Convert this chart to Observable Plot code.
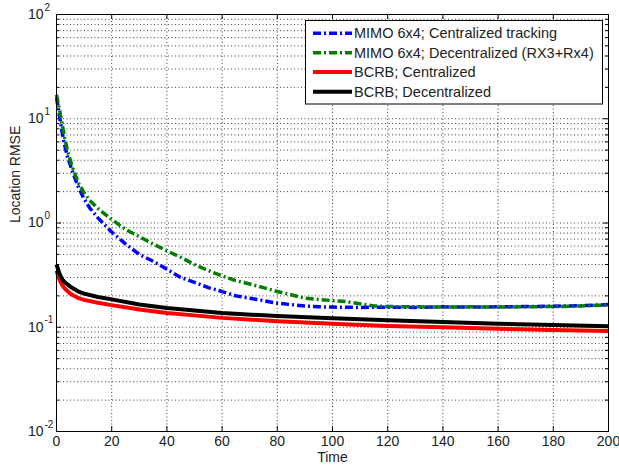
<!DOCTYPE html>
<html>
<head>
<meta charset="utf-8">
<script src="https://cdn.jsdelivr.net/npm/d3@7"></script>
<script src="https://cdn.jsdelivr.net/npm/@observablehq/plot@0.6"></script>
<style>
  html, body { margin: 0; padding: 0; background: #fff; }
  #chart { position: relative; width: 619px; height: 472px; }
</style>
</head>
<body>
<div id="chart"></div>
<script>
// ---- data ----
const tBlue   = [0, 1, 2, 3, 4, 5, 6, 8, 10, 12, 15, 20, 25, 30, 35, 40, 45, 50, 55, 60, 65, 70, 75, 80, 85, 90, 95, 100, 110, 120, 130, 140, 150, 160, 170, 180, 190, 200];
const vBlue   = [16, 11, 7.5, 5.5, 4.3, 3.6, 3.0, 2.2, 1.7, 1.4, 1.12, 0.82, 0.63, 0.5, 0.43, 0.36, 0.3, 0.27, 0.24, 0.22, 0.2, 0.19, 0.18, 0.17, 0.165, 0.16, 0.157, 0.156, 0.155, 0.156, 0.155, 0.157, 0.156, 0.157, 0.158, 0.159, 0.161, 0.165];
const tGreen  = [0, 1, 2, 3, 4, 5, 6, 8, 10, 12, 15, 20, 25, 30, 35, 40, 45, 50, 55, 60, 65, 70, 75, 80, 85, 90, 95, 100, 105, 110, 115, 120, 130, 140, 150, 160, 170, 180, 190, 200];
const vGreen  = [17, 12.5, 9, 6.5, 4.9, 4.0, 3.3, 2.4, 1.95, 1.65, 1.38, 1.08, 0.87, 0.74, 0.63, 0.54, 0.47, 0.4, 0.35, 0.31, 0.28, 0.26, 0.24, 0.22, 0.205, 0.19, 0.185, 0.18, 0.176, 0.168, 0.16, 0.158, 0.157, 0.156, 0.157, 0.156, 0.157, 0.158, 0.16, 0.163];
const tBound  = [0, 1, 2, 3, 5, 8, 10, 15, 20, 30, 40, 50, 60, 80, 100, 120, 140, 160, 180, 200];
const vRed    = [0.35, 0.29, 0.255, 0.235, 0.21, 0.19, 0.183, 0.172, 0.163, 0.148, 0.137, 0.13, 0.123, 0.114, 0.108, 0.103, 0.1, 0.097, 0.094, 0.092];
const vBlack  = [0.40, 0.33, 0.29, 0.27, 0.245, 0.22, 0.21, 0.195, 0.185, 0.165, 0.153, 0.145, 0.137, 0.128, 0.122, 0.117, 0.112, 0.108, 0.105, 0.102];

const seriesNames  = ["MIMO 6x4; Centralized tracking", "MIMO 6x4; Decentralized (RX3+Rx4)", "BCRB; Centralized", "BCRB; Decentralized"];
const seriesColors = ["#0000ff", "#007f00", "#ff0000", "#000000"];
const seriesDash   = ["8,3,2,3", "8,3,2,3", null, null];

const xTicks = [0, 20, 40, 60, 80, 100, 120, 140, 160, 180, 200];
const yMajor = [0.01, 0.1, 1, 10, 100];
const yExponents = ["-2", "-1", "0", "1", "2"];

// ---- build tables ----
const blue  = tBlue.map((t, i) => ({t, v: vBlue[i]}));
const green = tGreen.map((t, i) => ({t, v: vGreen[i]}));
const red   = tBound.map((t, i) => ({t, v: vRed[i]}));
const black = tBound.map((t, i) => ({t, v: vBlack[i]}));
const tables = [blue, green, red, black];

const W = 619, H = 472, mL = 56, mR = 11, mT = 14, mB = 41;
const pw = W - mL - mR, ph = H - mT - mB;
const yAll = d3.scaleLog().domain([0.01, 100]).ticks();
const yMinor = yAll.filter(v => !yMajor.some(m => Math.abs(m - v) / m < 1e-9));

const gridStyle = {stroke: "#000", strokeOpacity: 0.75, strokeWidth: 1, strokeDasharray: "1,2.5"};
const font = "'Liberation Sans', Arial, sans-serif";

const lineMarks = tables.map((data, i) => Plot.line(data, {
  x: "t", y: "v", stroke: seriesColors[i],
  strokeWidth: i < 2 ? 3.5 : 4,
  strokeDasharray: seriesDash[i] || undefined,
  strokeLinejoin: "round", strokeLinecap: "butt"
}));

const plot = Plot.plot({
  width: W, height: H,
  marginLeft: mL, marginRight: mR, marginTop: mT, marginBottom: mB,
  style: {fontFamily: font, fontSize: "14px", color: "#222", background: "#fff"},
  x: {domain: [0, 200]},
  y: {type: "log", domain: [0.01, 100]},
  marks: [
    Plot.ruleY(yAll, {...gridStyle}),
    Plot.ruleX(xTicks, {...gridStyle}),
    // inward ticks
    Plot.ruleY(yMajor, {stroke: "#000", insetRight: pw - 5}),
    Plot.ruleY(yMajor, {stroke: "#000", insetLeft: pw - 5}),
    Plot.ruleY(yMinor, {stroke: "#000", insetRight: pw - 3}),
    Plot.ruleY(yMinor, {stroke: "#000", insetLeft: pw - 3}),
    Plot.ruleX(xTicks, {stroke: "#000", insetTop: ph - 5}),
    Plot.ruleX(xTicks, {stroke: "#000", insetBottom: ph - 5}),
    ...lineMarks,
    Plot.frame({stroke: "#000", strokeWidth: 1}),
    Plot.axisX(xTicks, {tickSize: 0, tickPadding: 5, fontSize: 14, fill: "#222"}),
    Plot.axisY({ticks: [], tickSize: 0, label: null}),
    Plot.text(yMajor, {y: d => d, text: () => "10", frameAnchor: "left", textAnchor: "end", dx: -13, fontSize: 14, fill: "#222"}),
    Plot.text(yMajor, {y: d => d, text: (d, i) => yExponents[i], frameAnchor: "left", textAnchor: "start", dx: -12, dy: -7, fontSize: 10, fill: "#222"}),
    Plot.text(["Time"], {frameAnchor: "bottom", dy: 30, fontSize: 14, fill: "#222"}),
    Plot.text(["Location RMSE"], {frameAnchor: "left", rotate: -90, dx: -41, fontSize: 14, fill: "#222"})
  ]
});
plot.querySelectorAll('[aria-label="x-axis label"], [aria-label="y-axis label"]').forEach(n => n.remove());
document.getElementById("chart").appendChild(plot);

// ---- legend ----
const svg = d3.select(plot);
const lg = svg.append("g").attr("class", "legend").attr("text-anchor", "start");
const box = {x: 305.5, y: 20.5, w: 297, h: 83.5};
lg.append("rect").attr("x", box.x).attr("y", box.y).attr("width", box.w).attr("height", box.h)
  .attr("fill", "#fff").attr("stroke", "#000").attr("stroke-width", 1);
const rowY = [33.3, 52.7, 72, 91.7];
seriesNames.forEach((name, i) => {
  lg.append("line").attr("x1", 313).attr("x2", 352).attr("y1", rowY[i]).attr("y2", rowY[i])
    .attr("stroke", seriesColors[i]).attr("stroke-width", i < 2 ? 3.5 : 4)
    .attr("stroke-dasharray", seriesDash[i]);
  lg.append("text").attr("x", 354).attr("y", rowY[i]).attr("dy", "0.35em")
    .attr("text-anchor", "start")
    .attr("font-family", font).attr("font-size", 14.5).attr("fill", "#222").text(name);
});
</script>
</body>
</html>
